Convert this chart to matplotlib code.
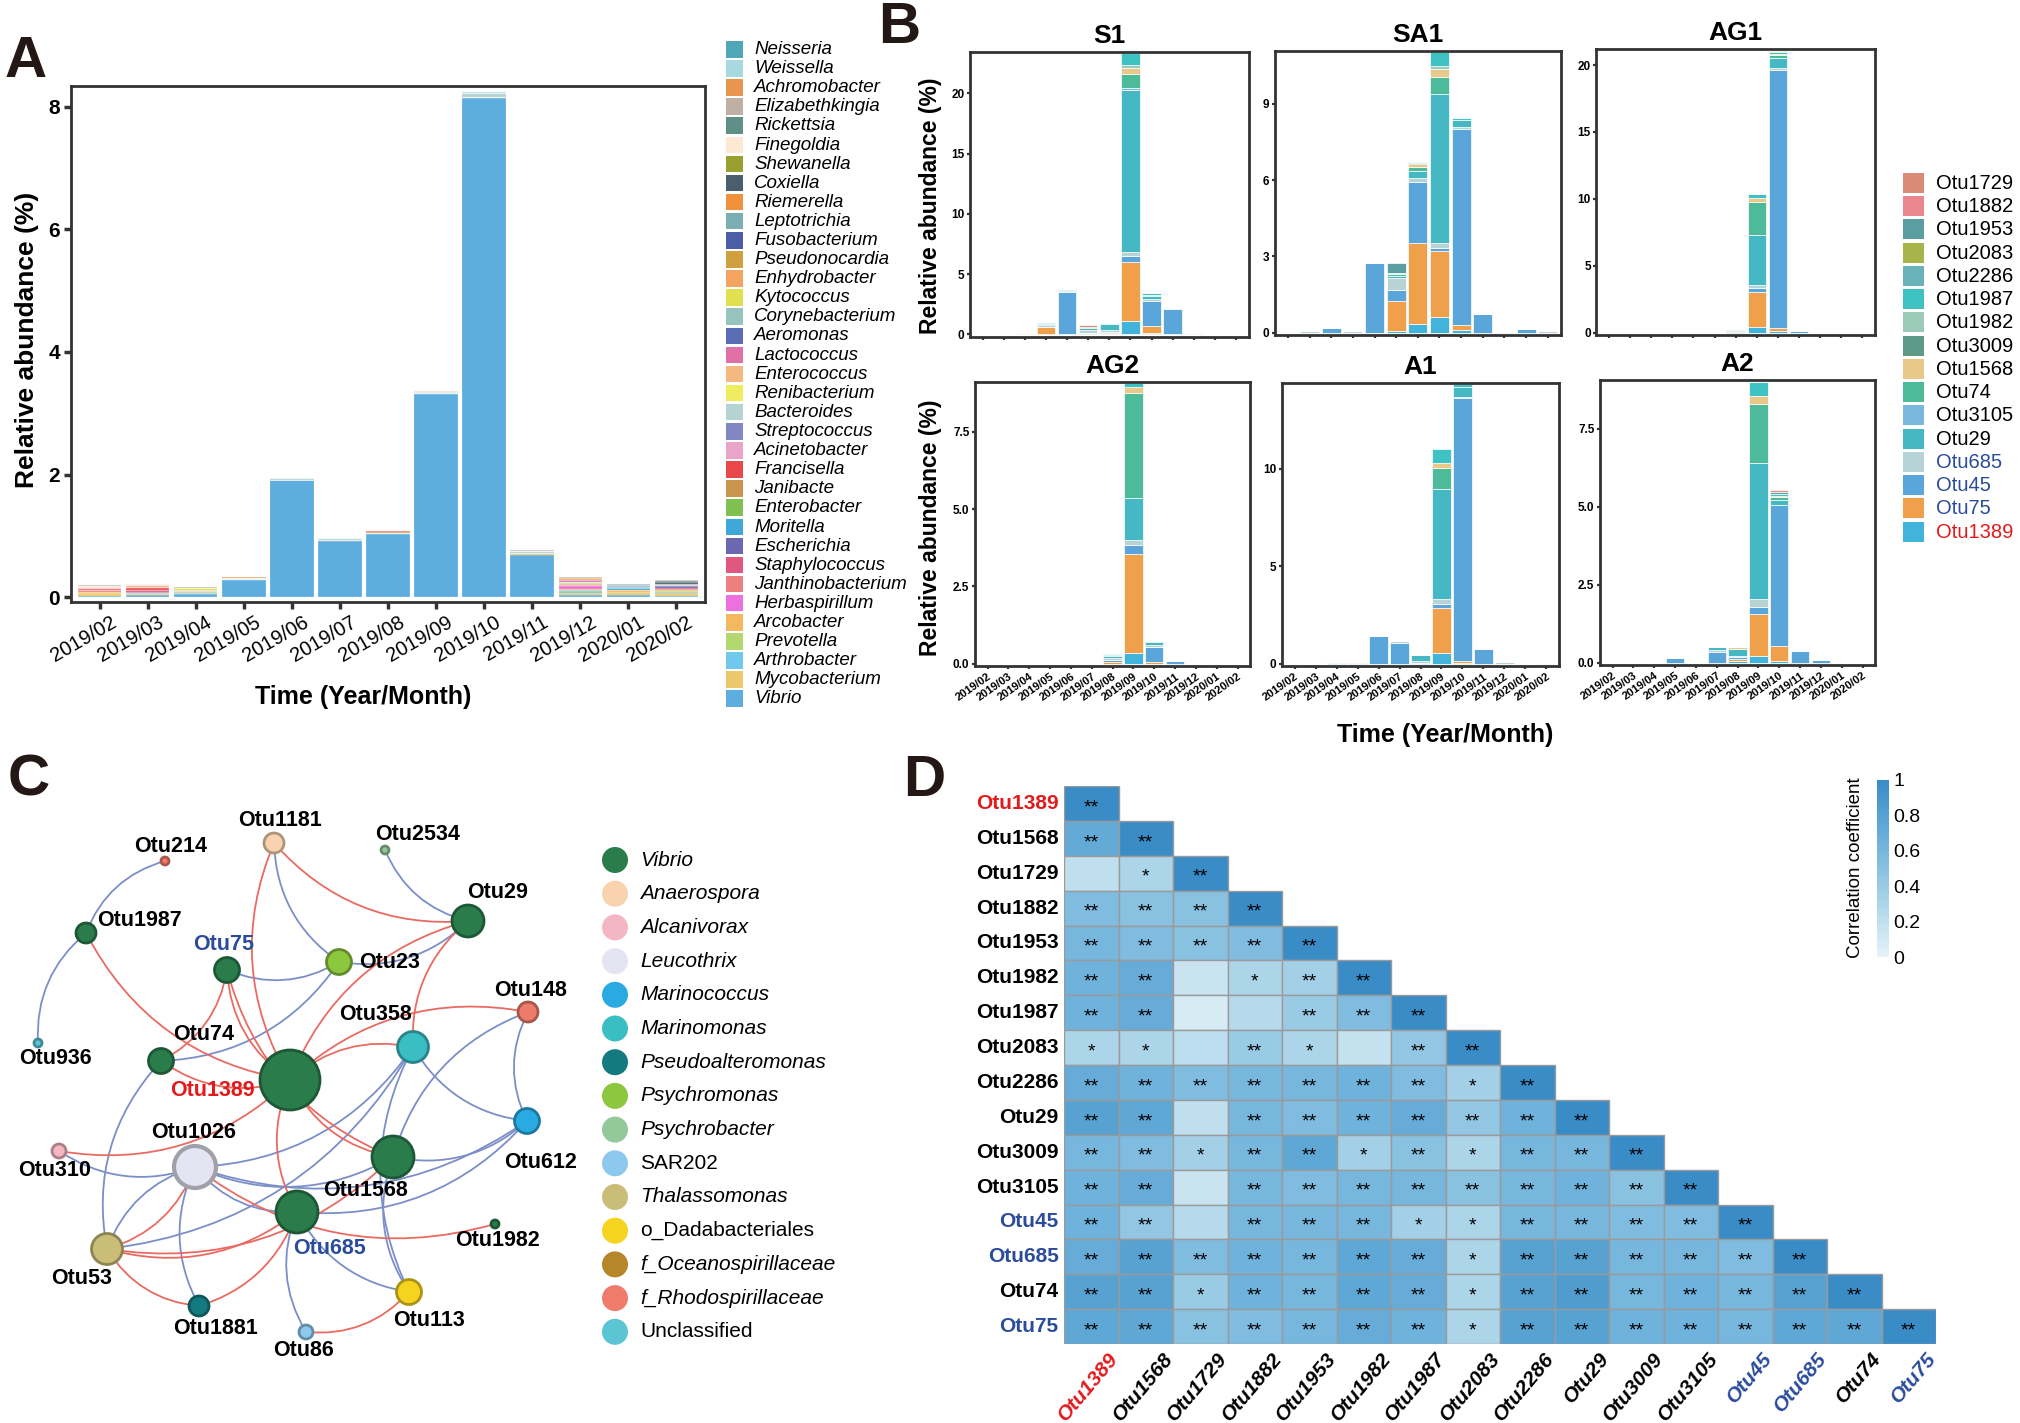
import numpy as np
import matplotlib.pyplot as plt
from matplotlib.patches import Rectangle, Circle, FancyArrowPatch
from matplotlib.colors import LinearSegmentedColormap, Normalize, to_rgb
from matplotlib.cm import ScalarMappable
from matplotlib.transforms import ScaledTranslation

plt.rcParams['font.family'] = ['Liberation Sans', 'DejaVu Sans']

W, H = 2020, 1423

months = ['2019/02', '2019/03', '2019/04', '2019/05', '2019/06', '2019/07', '2019/08',
          '2019/09', '2019/10', '2019/11', '2019/12', '2020/01', '2020/02']

# ---------------- panel A: genera (legend order, top of stack first)
genera = ['Neisseria', 'Weissella', 'Achromobacter', 'Elizabethkingia', 'Rickettsia',
          'Finegoldia', 'Shewanella', 'Coxiella', 'Riemerella', 'Leptotrichia',
          'Fusobacterium', 'Pseudonocardia', 'Enhydrobacter', 'Kytococcus',
          'Corynebacterium', 'Aeromonas', 'Lactococcus', 'Enterococcus', 'Renibacterium',
          'Bacteroides', 'Streptococcus', 'Acinetobacter', 'Francisella', 'Janibacte',
          'Enterobacter', 'Moritella', 'Escherichia', 'Staphylococcus',
          'Janthinobacterium', 'Herbaspirillum', 'Arcobacter', 'Prevotella',
          'Arthrobacter', 'Mycobacterium', 'Vibrio']
genus_colors = ['#4fa8b8', '#a8d8e0', '#e8964e', '#c0b0a4', '#5e9088', '#fde8d4',
                '#9aa030', '#4a5e6e', '#f0923c', '#7aaeb0', '#4a5ea8', '#d0a040',
                '#f4a460', '#e0e050', '#98c4c0', '#5a6cb4', '#e070a8', '#f4b880',
                '#f0ec60', '#b4d4d4', '#8088c4', '#eaa4c8', '#e84848', '#c89450',
                '#80c050', '#40a8d8', '#6a68b0', '#e05880', '#ec8080', '#ec70e0',
                '#f4b860', '#b4d870', '#70c8ec', '#ecc86c', '#5daedf']

vibrio = [0.02, 0.03, 0.05, 0.27, 1.91, 0.91, 1.03, 3.31, 8.14, 0.69, 0.04, 0.04, 0.02]
mycobacterium = [0.04, 0.02, 0.02, 0.02, 0, 0.02, 0.02, 0.02, 0.03, 0.03, 0.03, 0.04, 0.05]
bacteroides = [0.01, 0.01, 0.01, 0.02, 0.03, 0.03, 0.01, 0.01, 0.06, 0.03, 0.01, 0.01, 0.01]
minor_genera = {
    'Arthrobacter':      [0, 0.01, 0.01, 0, 0, 0, 0, 0, 0, 0, 0.03, 0, 0.01],
    'Prevotella':        [0.01, 0.01, 0.01, 0, 0, 0, 0, 0, 0, 0, 0.02, 0.01, 0.02],
    'Arcobacter':        [0.02, 0, 0.01, 0, 0, 0, 0, 0, 0, 0, 0.01, 0.02, 0.01],
    'Herbaspirillum':    [0, 0, 0, 0, 0, 0, 0, 0, 0, 0, 0.05, 0, 0.01],
    'Janthinobacterium': [0.02, 0.02, 0, 0, 0, 0, 0, 0, 0, 0, 0.01, 0, 0.01],
    'Staphylococcus':    [0.01, 0.03, 0, 0, 0, 0, 0, 0, 0, 0, 0.01, 0, 0.02],
    'Escherichia':       [0, 0, 0, 0, 0, 0, 0, 0, 0, 0, 0, 0.01, 0.03],
    'Moritella':         [0, 0, 0, 0, 0, 0, 0, 0, 0, 0, 0, 0.02, 0],
    'Enterobacter':      [0, 0, 0.01, 0, 0, 0, 0, 0, 0, 0, 0, 0, 0],
    'Janibacte':         [0, 0, 0, 0, 0, 0, 0.01, 0, 0, 0, 0.02, 0, 0.01],
    'Francisella':       [0.01, 0.03, 0, 0, 0, 0, 0.02, 0, 0, 0, 0, 0, 0],
    'Acinetobacter':     [0.01, 0.01, 0, 0, 0, 0, 0, 0, 0, 0, 0, 0, 0],
    'Streptococcus':     [0, 0, 0, 0, 0, 0, 0, 0, 0, 0, 0, 0.02, 0],
    'Renibacterium':     [0, 0, 0, 0, 0, 0, 0, 0, 0, 0, 0.02, 0, 0],
    'Enterococcus':      [0.01, 0.02, 0, 0, 0, 0, 0, 0, 0, 0, 0, 0, 0],
    'Lactococcus':       [0, 0, 0, 0, 0, 0, 0, 0, 0, 0, 0.02, 0, 0],
    'Aeromonas':         [0, 0, 0, 0, 0, 0, 0, 0, 0, 0, 0, 0, 0.02],
    'Corynebacterium':   [0, 0, 0, 0, 0, 0, 0, 0, 0, 0, 0, 0.02, 0],
    'Kytococcus':        [0, 0, 0.02, 0, 0, 0, 0, 0, 0, 0, 0, 0.01, 0],
    'Enhydrobacter':     [0.01, 0, 0, 0, 0, 0, 0, 0.02, 0, 0, 0, 0, 0],
    'Pseudonocardia':    [0, 0, 0, 0, 0, 0, 0, 0, 0, 0, 0.02, 0, 0],
    'Fusobacterium':     [0, 0, 0, 0, 0, 0, 0, 0, 0, 0, 0, 0.01, 0],
    'Riemerella':        [0, 0, 0, 0, 0, 0, 0, 0, 0, 0, 0.02, 0, 0],
    'Coxiella':          [0, 0, 0, 0, 0, 0, 0, 0, 0, 0, 0, 0, 0.02],
    'Shewanella':        [0, 0, 0, 0, 0, 0, 0, 0, 0, 0, 0, 0, 0.01],
    'Finegoldia':        [0.01, 0.02, 0, 0, 0, 0, 0, 0, 0, 0, 0, 0, 0],
    'Rickettsia':        [0, 0, 0, 0, 0, 0, 0, 0, 0, 0, 0, 0, 0.01],
    'Elizabethkingia':   [0.01, 0.01, 0.02, 0, 0, 0, 0, 0, 0, 0.02, 0.01, 0, 0.01],
    'Achromobacter':     [0, 0, 0, 0.01, 0, 0, 0, 0, 0, 0, 0, 0, 0],
    'Weissella':         [0.01, 0, 0, 0, 0.01, 0, 0, 0, 0.02, 0, 0, 0, 0],
}

# ---------------- panel B: OTUs by site (legend order, top of stack first)
otus = ['Otu1729', 'Otu1882', 'Otu1953', 'Otu2083', 'Otu2286', 'Otu1987', 'Otu1982',
        'Otu3009', 'Otu1568', 'Otu74', 'Otu3105', 'Otu29', 'Otu685', 'Otu45', 'Otu75',
        'Otu1389']
otu_colors = ['#d98b78', '#e9868e', '#5a9ea2', '#a6b44a', '#6ab3bb', '#3fc2c2', '#9ccab9',
              '#5e9a88', '#e8c98a', '#4dbb9a', '#7ab8e0', '#46b8c4', '#b8d3d5', '#5aa6db',
              '#f0a04b', '#42b4dc']
otu_text_colors = ['black'] * 12 + ['#2b4c9b', '#2b4c9b', '#2b4c9b', '#e31a1c']

sites = ['S1', 'SA1', 'AG1', 'AG2', 'A1', 'A2']
s1 = {
    'Otu1389': [0, 0, 0, 0.05, 0, 0, 0.05, 1.1, 0.15, 0, 0, 0, 0],
    'Otu75':   [0, 0, 0, 0.55, 0, 0.1, 0.05, 4.9, 0.55, 0, 0, 0, 0],
    'Otu45':   [0, 0, 0, 0.05, 3.5, 0.05, 0.1, 0.5, 2.1, 2.1, 0, 0, 0],
    'Otu685':  [0, 0.05, 0.08, 0.15, 0.1, 0.2, 0.2, 0.3, 0.15, 0.1, 0.1, 0, 0],
    'Otu29':   [0, 0, 0, 0.1, 0.1, 0.2, 0.45, 13.5, 0.25, 0, 0, 0, 0],
    'Otu3105': [0, 0, 0, 0, 0.05, 0, 0, 0.1, 0, 0, 0, 0, 0],
    'Otu74':   [0, 0, 0, 0.05, 0, 0, 0.05, 1.2, 0.05, 0, 0, 0, 0],
    'Otu1568': [0, 0, 0, 0, 0, 0, 0, 0.5, 0, 0, 0, 0, 0],
    'Otu3009': [0, 0, 0, 0.05, 0, 0.05, 0, 0, 0.05, 0, 0, 0, 0],
    'Otu1982': [0, 0, 0, 0, 0, 0, 0, 0.2, 0, 0, 0, 0, 0],
    'Otu1987': [0, 0, 0, 0.05, 0, 0.05, 0.05, 1.0, 0.1, 0, 0, 0, 0],
    'Otu1729': [0, 0, 0, 0, 0, 0.15, 0, 0, 0, 0, 0, 0, 0],
}
sa1 = {
    'Otu1389': [0, 0, 0, 0, 0, 0.05, 0.35, 0.6, 0.1, 0, 0, 0, 0],
    'Otu75':   [0, 0, 0, 0, 0, 1.2, 3.2, 2.6, 0.2, 0, 0, 0, 0],
    'Otu45':   [0, 0, 0.17, 0, 2.74, 0.45, 2.4, 0.15, 7.7, 0.75, 0, 0.15, 0],
    'Otu685':  [0, 0.07, 0, 0.07, 0, 0.45, 0.12, 0.2, 0.08, 0, 0.02, 0, 0.07],
    'Otu29':   [0, 0, 0, 0, 0, 0.1, 0.3, 5.83, 0.3, 0, 0, 0, 0],
    'Otu74':   [0, 0, 0, 0, 0, 0.05, 0.15, 0.7, 0, 0, 0, 0, 0],
    'Otu1568': [0, 0, 0, 0, 0, 0, 0.1, 0.3, 0, 0, 0, 0, 0],
    'Otu3009': [0, 0, 0, 0, 0, 0, 0.05, 0, 0, 0, 0, 0, 0],
    'Otu1982': [0, 0, 0, 0, 0, 0.05, 0, 0.1, 0, 0, 0, 0, 0],
    'Otu1987': [0, 0, 0, 0, 0, 0, 0.05, 0.55, 0.08, 0, 0, 0, 0],
    'Otu1953': [0, 0, 0, 0, 0, 0.4, 0, 0, 0, 0, 0, 0, 0],
}
ag1 = {
    'Otu1389': [0, 0, 0, 0, 0, 0, 0.05, 0.45, 0.15, 0, 0, 0, 0],
    'Otu75':   [0, 0, 0, 0, 0, 0, 0.05, 2.6, 0.2, 0, 0, 0, 0],
    'Otu45':   [0, 0, 0, 0, 0, 0, 0.1, 0.3, 19.3, 0.15, 0, 0, 0],
    'Otu685':  [0, 0, 0, 0, 0, 0, 0.05, 0.25, 0.1, 0, 0, 0, 0],
    'Otu29':   [0, 0, 0, 0, 0, 0, 0.05, 3.7, 0.8, 0, 0, 0, 0],
    'Otu74':   [0, 0, 0, 0, 0, 0, 0, 2.5, 0.2, 0, 0, 0, 0],
    'Otu1568': [0, 0, 0, 0, 0, 0, 0, 0.25, 0.1, 0, 0, 0, 0],
    'Otu1987': [0, 0, 0, 0, 0, 0, 0, 0.35, 0.1, 0, 0, 0, 0],
    'Otu2083': [0, 0, 0, 0, 0, 0, 0, 0, 0.1, 0, 0, 0, 0],
}
ag2 = {
    'Otu1389': [0, 0, 0, 0, 0, 0, 0, 0.35, 0, 0, 0, 0, 0],
    'Otu75':   [0, 0, 0, 0, 0, 0, 0.07, 3.2, 0.05, 0, 0, 0, 0],
    'Otu45':   [0, 0, 0, 0, 0, 0, 0.06, 0.3, 0.5, 0.08, 0, 0, 0],
    'Otu685':  [0, 0, 0, 0, 0, 0, 0.05, 0.15, 0.05, 0, 0, 0, 0],
    'Otu29':   [0, 0, 0, 0, 0, 0, 0.06, 1.35, 0.1, 0, 0, 0, 0],
    'Otu74':   [0, 0, 0, 0, 0, 0, 0.05, 3.4, 0.05, 0, 0, 0, 0],
    'Otu1568': [0, 0, 0, 0, 0, 0, 0, 0.2, 0, 0, 0, 0, 0],
    'Otu1987': [0, 0, 0, 0, 0, 0, 0.02, 0.12, 0, 0, 0, 0, 0],
}
a1 = {
    'Otu1389': [0, 0, 0, 0, 0, 0, 0, 0.55, 0.05, 0, 0, 0, 0],
    'Otu75':   [0, 0, 0, 0, 0, 0, 0, 2.3, 0.1, 0, 0, 0, 0],
    'Otu45':   [0, 0, 0.03, 0.03, 1.4, 1.05, 0.05, 0.2, 13.5, 0.75, 0, 0, 0],
    'Otu685':  [0, 0, 0.04, 0.04, 0.04, 0.1, 0.1, 0.25, 0.05, 0, 0.07, 0, 0.05],
    'Otu29':   [0, 0, 0, 0, 0, 0, 0.28, 5.67, 0.5, 0, 0, 0, 0],
    'Otu74':   [0, 0, 0, 0, 0, 0, 0, 1.08, 0, 0, 0, 0, 0],
    'Otu1568': [0, 0, 0, 0, 0, 0, 0, 0.25, 0, 0, 0, 0, 0],
    'Otu1987': [0, 0, 0, 0, 0, 0, 0, 0.7, 0.13, 0, 0, 0, 0],
}
a2 = {
    'Otu1389': [0, 0, 0, 0, 0, 0, 0.05, 0.2, 0.05, 0, 0, 0, 0],
    'Otu75':   [0, 0, 0, 0, 0, 0, 0.08, 1.35, 0.5, 0, 0, 0, 0],
    'Otu45':   [0, 0, 0, 0.15, 0, 0.35, 0.05, 0.25, 4.5, 0.38, 0.1, 0, 0],
    'Otu685':  [0, 0, 0, 0, 0, 0.05, 0.05, 0.25, 0, 0, 0, 0, 0],
    'Otu29':   [0, 0, 0, 0, 0, 0.1, 0.2, 4.35, 0.15, 0, 0, 0, 0],
    'Otu74':   [0, 0, 0, 0, 0, 0, 0.02, 1.9, 0.1, 0, 0, 0, 0],
    'Otu1568': [0, 0, 0, 0, 0, 0, 0.05, 0.25, 0.05, 0, 0, 0, 0],
    'Otu1987': [0, 0, 0, 0, 0, 0, 0, 0.45, 0.05, 0, 0, 0, 0],
    'Otu1953': [0, 0, 0, 0, 0, 0, 0, 0, 0.08, 0, 0, 0, 0],
    'Otu1882': [0, 0, 0, 0, 0, 0, 0, 0, 0.05, 0, 0, 0, 0],
}
site_data = [s1, sa1, ag1, ag2, a1, a2]
site_yticks = [[0, 5, 10, 15, 20], [0, 3, 6, 9], [0, 5, 10, 15, 20],
               [0.0, 2.5, 5.0, 7.5], [0, 5, 10], [0.0, 2.5, 5.0, 7.5]]

# ---------------- panel C: co-occurrence network
net_genera = ['Vibrio', 'Anaerospora', 'Alcanivorax', 'Leucothrix', 'Marinococcus',
              'Marinomonas', 'Pseudoalteromonas', 'Psychromonas', 'Psychrobacter',
              'SAR202', 'Thalassomonas', 'o_Dadabacteriales', 'f_Oceanospirillaceae',
              'f_Rhodospirillaceae', 'Unclassified']
net_colors = ['#2a7d4b', '#f9d3b0', '#f4b6c2', '#e4e4f2', '#29aae2', '#3bbdc4',
              '#137b80', '#8dc63f', '#94c89a', '#8dc8ef', '#c9bd78', '#f4d41e',
              '#b5862a', '#ef7b6a', '#5bc5d3']
node_genus = {
    'Otu1181': 'Anaerospora', 'Otu2534': 'Psychrobacter', 'Otu214': 'f_Rhodospirillaceae',
    'Otu29': 'Vibrio', 'Otu1987': 'Vibrio', 'Otu75': 'Vibrio', 'Otu23': 'Psychromonas',
    'Otu148': 'f_Rhodospirillaceae', 'Otu358': 'Marinomonas', 'Otu74': 'Vibrio',
    'Otu936': 'Unclassified', 'Otu1389': 'Vibrio', 'Otu612': 'Marinococcus',
    'Otu1026': 'Leucothrix', 'Otu310': 'Alcanivorax', 'Otu1568': 'Vibrio',
    'Otu685': 'Vibrio', 'Otu1982': 'Vibrio', 'Otu53': 'Thalassomonas',
    'Otu113': 'o_Dadabacteriales', 'Otu1881': 'Pseudoalteromonas', 'Otu86': 'SAR202',
}
pos_edges = [('Otu1181', 'Otu29'), ('Otu1181', 'Otu1389'), ('Otu1987', 'Otu1389'),
             ('Otu75', 'Otu1389'), ('Otu74', 'Otu75'), ('Otu75', 'Otu1568'),
             ('Otu74', 'Otu1389'), ('Otu29', 'Otu1389'), ('Otu29', 'Otu358'),
             ('Otu358', 'Otu1389'), ('Otu148', 'Otu1389'), ('Otu310', 'Otu1389'),
             ('Otu1389', 'Otu1568'), ('Otu1389', 'Otu685'), ('Otu1026', 'Otu1982'),
             ('Otu53', 'Otu1026'), ('Otu53', 'Otu685'), ('Otu53', 'Otu1568'),
             ('Otu53', 'Otu1881'), ('Otu1881', 'Otu685'), ('Otu86', 'Otu113')]
neg_edges = [('Otu214', 'Otu1987'), ('Otu1987', 'Otu936'), ('Otu1181', 'Otu23'),
             ('Otu2534', 'Otu29'), ('Otu75', 'Otu23'), ('Otu23', 'Otu29'),
             ('Otu74', 'Otu23'), ('Otu358', 'Otu612'), ('Otu148', 'Otu612'),
             ('Otu358', 'Otu113'), ('Otu310', 'Otu1026'), ('Otu1026', 'Otu358'),
             ('Otu1026', 'Otu1568'), ('Otu1026', 'Otu685'), ('Otu1026', 'Otu53'),
             ('Otu1026', 'Otu1881'), ('Otu1026', 'Otu612'), ('Otu74', 'Otu53'),
             ('Otu1568', 'Otu612'), ('Otu685', 'Otu612'), ('Otu685', 'Otu86'),
             ('Otu685', 'Otu113'), ('Otu1568', 'Otu113'), ('Otu148', 'Otu1568'),
             ('Otu53', 'Otu358')]

# ---------------- panel D: correlation among OTUs (lower triangle)
corr_otus = ['Otu1389', 'Otu1568', 'Otu1729', 'Otu1882', 'Otu1953', 'Otu1982', 'Otu1987',
             'Otu2083', 'Otu2286', 'Otu29', 'Otu3009', 'Otu3105', 'Otu45', 'Otu685',
             'Otu74', 'Otu75']
corr_vals = [
    [1],
    [0.72, 1],
    [0.2, 0.3, 1],
    [0.55, 0.5, 0.5, 1],
    [0.6, 0.55, 0.5, 0.55, 1],
    [0.65, 0.7, 0.15, 0.3, 0.35, 1],
    [0.65, 0.7, 0.08, 0.25, 0.4, 0.55, 1],
    [0.3, 0.3, 0.22, 0.4, 0.3, 0.18, 0.45, 1],
    [0.7, 0.65, 0.55, 0.6, 0.6, 0.65, 0.55, 0.35, 1],
    [0.8, 0.75, 0.2, 0.6, 0.55, 0.65, 0.7, 0.45, 0.65, 1],
    [0.6, 0.55, 0.35, 0.6, 0.75, 0.35, 0.5, 0.3, 0.6, 0.6, 1],
    [0.65, 0.7, 0.15, 0.6, 0.55, 0.6, 0.6, 0.5, 0.6, 0.65, 0.5, 1],
    [0.65, 0.45, 0.25, 0.6, 0.6, 0.6, 0.35, 0.3, 0.6, 0.6, 0.55, 0.55, 1],
    [0.7, 0.8, 0.55, 0.65, 0.6, 0.75, 0.7, 0.3, 0.8, 0.8, 0.6, 0.6, 0.55, 1],
    [0.8, 0.8, 0.4, 0.65, 0.6, 0.75, 0.7, 0.3, 0.8, 0.85, 0.6, 0.65, 0.6, 0.8, 1],
    [0.75, 0.75, 0.5, 0.55, 0.6, 0.7, 0.65, 0.3, 0.8, 0.8, 0.65, 0.65, 0.6, 0.75, 0.75, 1],
]
corr_sig = [
    ['**'],
    ['**', '**'],
    ['', '*', '**'],
    ['**', '**', '**', '**'],
    ['**', '**', '**', '**', '**'],
    ['**', '**', '', '*', '**', '**'],
    ['**', '**', '', '', '**', '**', '**'],
    ['*', '*', '', '**', '*', '', '**', '**'],
    ['**', '**', '**', '**', '**', '**', '**', '*', '**'],
    ['**', '**', '', '**', '**', '**', '**', '**', '**', '**'],
    ['**', '**', '*', '**', '**', '*', '**', '*', '**', '**', '**'],
    ['**', '**', '', '**', '**', '**', '**', '**', '**', '**', '**', '**'],
    ['**', '**', '', '**', '**', '**', '*', '*', '**', '**', '**', '**', '**'],
    ['**', '**', '**', '**', '**', '**', '**', '*', '**', '**', '**', '**', '**', '**'],
    ['**', '**', '*', '**', '**', '**', '**', '*', '**', '**', '**', '**', '**', '**', '**'],
    ['**', '**', '**', '**', '**', '**', '**', '*', '**', '**', '**', '**', '**', '**', '**', '**'],
]
corr_label_colors = {'Otu1389': '#e31a1c', 'Otu45': '#2b4c9b', 'Otu685': '#2b4c9b',
                     'Otu75': '#2b4c9b'}

# ================= layout helpers (pixel coords of the 2020x1423 canvas)
fig = plt.figure(figsize=(W / 100, H / 100), dpi=100)


def px_axes(l, t, r, b):
    return fig.add_axes([l / W, 1 - b / H, (r - l) / W, (b - t) / H])


def ftext(x, y, s, **kw):
    return fig.text(x / W, 1 - y / H, s, **kw)


def frect(x, y, w, h, color):
    fig.add_artist(Rectangle((x / W, 1 - (y + h) / H), w / W, h / H,
                             transform=fig.transFigure, facecolor=color, edgecolor='none'))


def style_box(ax, lw=2.0):
    for sp in ax.spines.values():
        sp.set_linewidth(lw)
        sp.set_color('#333333')


# ================= panel A
axA = px_axes(71, 85.5, 705, 601.5)
xA = np.arange(len(months))
bottom = np.zeros(len(months))
for name, col in zip(genera[::-1], genus_colors[::-1]):
    if name == 'Vibrio':
        vals = np.array(vibrio)
    elif name == 'Mycobacterium':
        vals = np.array(mycobacterium)
    elif name == 'Bacteroides':
        vals = np.array(bacteroides)
    else:
        vals = np.array(minor_genera.get(name, [0] * len(months)), dtype=float)
    if vals.sum() == 0:
        continue
    axA.bar(xA, vals, 0.9, bottom=bottom, color=col, edgecolor='white', linewidth=0.15)
    bottom += vals
axA.set_xlim(-0.6, 12.6)
axA.set_ylim(-0.073, 8.35)
axA.set_yticks([0, 2, 4, 6, 8])
axA.set_yticklabels(['0', '2', '4', '6', '8'], fontsize=15, fontweight='bold')
axA.set_xticks(xA)
axA.set_xticklabels(months, fontsize=14.5, rotation=30, ha='right', rotation_mode='anchor')
axA.tick_params(length=5, width=2.5, color='#333333', pad=3)
for lbl in axA.get_xticklabels():
    lbl.set_transform(lbl.get_transform() + ScaledTranslation(0.1, 0, fig.dpi_scale_trans))
style_box(axA)
ftext(27, 340, 'Relative abundance (%)', rotation=90, ha='center', va='center',
      fontsize=19, fontweight='bold')
ftext(363, 697, 'Time (Year/Month)', ha='center', va='center', fontsize=18,
      fontweight='bold')

for i, (name, col) in enumerate(zip(genera, genus_colors)):
    y0 = 41 + i * 19.1
    frect(725.5, y0, 17.5, 16.5, col)
    ftext(754, y0 + 8.5, name, ha='left', va='center', fontsize=13.5, style='italic')

# ================= panel B
b_boxes = [(970, 51.7, 1248.6, 336.7), (1275, 50.7, 1560.7, 335), (1596.4, 49.3, 1875, 335),
           (975, 381.7, 1250, 666), (1282, 382.7, 1559, 666), (1600, 380, 1875, 665)]
for k, (site, data, ticks, box) in enumerate(zip(sites, site_data, site_yticks, b_boxes)):
    ax = px_axes(*box)
    bottom = np.zeros(len(months))
    for otu, col in zip(otus[::-1], otu_colors[::-1]):
        if otu not in data:
            continue
        vals = np.array(data[otu], dtype=float)
        ax.bar(xA, vals, 0.88, bottom=bottom, color=col, edgecolor='white', linewidth=0.5)
        bottom += vals
    top = bottom.max() * 1.006
    ax.set_ylim(-0.008 * top, top)
    ax.set_xlim(-0.6, 12.6)
    ax.set_yticks(ticks)
    ax.set_yticklabels([f'{t:g}' if k not in (3, 5) else f'{t:.1f}' for t in ticks],
                       fontsize=8.5, fontweight='bold')
    ax.set_xticks(xA)
    if k >= 3:
        ax.set_xticklabels(months, fontsize=8, fontweight='bold', rotation=35, ha='right',
                           rotation_mode='anchor')
    else:
        ax.set_xticklabels([])
    ax.tick_params(length=2.5, width=1.6, color='#333333', pad=1.5)
    style_box(ax, 2.0)
    ax.set_title(site, fontsize=19, fontweight='bold', pad=6.5)

ftext(930, 206, 'Relative abundance (%)', rotation=90, ha='center', va='center',
      fontsize=16.5, fontweight='bold')
ftext(930, 528, 'Relative abundance (%)', rotation=90, ha='center', va='center',
      fontsize=16.5, fontweight='bold')
ftext(1445, 735, 'Time (Year/Month)', ha='center', va='center', fontsize=18,
      fontweight='bold')

for i, (otu, col, tc) in enumerate(zip(otus, otu_colors, otu_text_colors)):
    y0 = 172.7 + i * 23.27
    frect(1903, y0, 21, 20, col)
    ftext(1936, y0 + 10.5, otu, ha='left', va='center', fontsize=14.5, color=tc)

# ================= panel C
axC = px_axes(0, 790, 900, 1400)
axC.set_xlim(0, 900)
axC.set_ylim(1400, 790)
axC.axis('off')

node_xy = {
    'Otu1181': (274, 843), 'Otu2534': (385, 850), 'Otu214': (165, 861),
    'Otu29': (468, 921), 'Otu1987': (86, 933), 'Otu75': (227, 970), 'Otu23': (339, 962),
    'Otu148': (528, 1012), 'Otu358': (413, 1047), 'Otu74': (161, 1061),
    'Otu936': (38, 1043), 'Otu1389': (290, 1080), 'Otu612': (527, 1121),
    'Otu1026': (195, 1167), 'Otu310': (59, 1151), 'Otu1568': (393, 1157),
    'Otu685': (297, 1212), 'Otu1982': (495, 1224), 'Otu53': (107, 1249),
    'Otu113': (409, 1292), 'Otu1881': (199, 1306), 'Otu86': (306, 1332),
}
node_r = {
    'Otu1181': 10, 'Otu2534': 4, 'Otu214': 4, 'Otu29': 16, 'Otu1987': 10, 'Otu75': 12.5,
    'Otu23': 12.5, 'Otu148': 10, 'Otu358': 15.5, 'Otu74': 12.5, 'Otu936': 4,
    'Otu1389': 30, 'Otu612': 12.5, 'Otu1026': 21, 'Otu310': 7, 'Otu1568': 21,
    'Otu685': 21, 'Otu1982': 4, 'Otu53': 15.5, 'Otu113': 12.5, 'Otu1881': 10, 'Otu86': 7,
}
label_xy = {
    'Otu1181': (280, 820), 'Otu2534': (418, 835), 'Otu214': (171, 846), 'Otu29': (498, 892),
    'Otu1987': (139, 921), 'Otu75': (224, 944), 'Otu23': (390, 962), 'Otu148': (531, 991),
    'Otu358': (376, 1015), 'Otu74': (204, 1034), 'Otu936': (55, 1058),
    'Otu1389': (212, 1090), 'Otu612': (541, 1163), 'Otu1026': (194, 1133),
    'Otu310': (55, 1170), 'Otu1568': (366, 1191), 'Otu685': (329, 1248),
    'Otu1982': (498, 1241), 'Otu53': (82, 1279), 'Otu113': (429, 1321),
    'Otu1881': (215, 1329), 'Otu86': (304, 1351),
}
genus_col = dict(zip(net_genera, net_colors))


def darker(c, f=0.7):
    r, g, b = to_rgb(c)
    return (r * f, g * f, b * f)


for edges, ecol in ((neg_edges, '#7b8ec8'), (pos_edges, '#ea6a62')):
    for a, b in edges:
        axC.add_patch(FancyArrowPatch(node_xy[a], node_xy[b], arrowstyle='-',
                                      connectionstyle='arc3,rad=0.25', color=ecol, lw=1.3,
                                      shrinkA=0, shrinkB=0, zorder=1))

for node, (x, y) in node_xy.items():
    fc = genus_col[node_genus[node]]
    ec = '#a0a0a8' if node_genus[node] == 'Leucothrix' else darker(fc)
    lw = 3 if node_genus[node] == 'Leucothrix' else 2
    axC.add_patch(Circle((x, y), node_r[node], facecolor=fc, edgecolor=ec, lw=lw, zorder=3))
    lc = corr_label_colors.get(node, 'black')
    lx, ly = label_xy[node]
    axC.text(lx, ly, node, ha='center', va='center', fontsize=15.5, fontweight='bold',
             color=lc, zorder=4)

for i, (g, c) in enumerate(zip(net_genera, net_colors)):
    y = 860 + i * 33.7
    axC.add_patch(Circle((615, y), 13, facecolor=c, edgecolor='none', zorder=3))
    st = 'normal' if g in ('SAR202', 'Unclassified', 'o_Dadabacteriales') else 'italic'
    axC.text(640, y, g, ha='left', va='center', fontsize=15, style=st)

# ================= panel D
cmap = LinearSegmentedColormap.from_list('corr', ['#e6f3f8', '#a6d2e7', '#6cb0da', '#3a8cc7'])
norm = Normalize(0, 1)
n = len(corr_otus)
axD = px_axes(1064, 786, 1936, 1344)
for i, row in enumerate(corr_vals):
    for j, v in enumerate(row):
        axD.add_patch(Rectangle((j, i), 1, 1, facecolor=cmap(norm(v)), edgecolor='#9a9a9a',
                                linewidth=1.0))
axD.set_xlim(0, n)
axD.set_ylim(n, 0)
axD.axis('off')
for i, row in enumerate(corr_sig):
    for j, s in enumerate(row):
        if s:
            axD.text(j + 0.5, i + 0.62, s, ha='center', va='center', fontsize=14)
for i, name in enumerate(corr_otus):
    c = corr_label_colors.get(name, 'black')
    axD.text(-0.1, i + 0.5, name, ha='right', va='center', fontsize=15, fontweight='bold',
             color=c)
    axD.text(i + 0.8, n + 0.15, name, ha='right', va='top', rotation=50,
             rotation_mode='anchor', fontsize=15, fontweight='bold', style='italic', color=c)

cax = px_axes(1877, 780, 1889, 957)
cb = fig.colorbar(ScalarMappable(norm=norm, cmap=cmap), cax=cax,
                  ticks=[0, 0.2, 0.4, 0.6, 0.8, 1])
cb.ax.set_yticklabels(['0', '0.2', '0.4', '0.6', '0.8', '1'], fontsize=14)
cb.ax.tick_params(length=0, pad=3)
cb.outline.set_visible(False)
ftext(1856, 868, 'Correlation coefficient', rotation=90, ha='center', va='center',
      fontsize=13.5)

# ================= panel letters
for lx, ly, letter in ((5, 77, 'A'), (878, 43, 'B'), (8, 796, 'C'), (903, 796, 'D')):
    ftext(lx, ly, letter, fontsize=42, fontweight='bold', va='baseline', color='#231815')

fig.savefig('out.png', dpi=100)
